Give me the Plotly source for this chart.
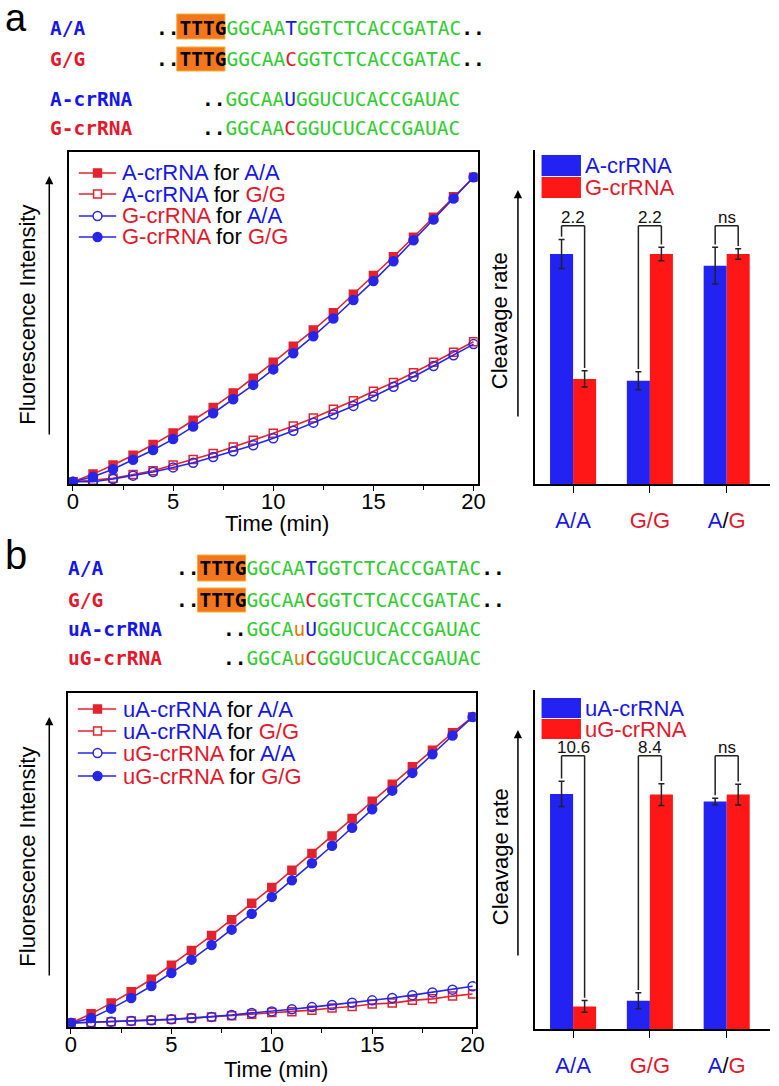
import plotly.graph_objects as go

W, H = 779, 1086

# ---------------- data ----------------
time_min = list(range(21))

# panel a: fluorescence kinetics (relative units)
a_Acr_AA = [0, 2.5, 5.5, 8.7, 12.2, 16.0, 20.2, 24.4, 29.1, 34.0, 39.2, 44.5, 49.8, 55.5, 61.6, 67.7, 73.9, 80.3, 86.9, 93.6, 100]
a_Acr_GG = [0, 0.5, 1.1, 2.4, 3.6, 5.5, 7.3, 9.3, 11.4, 13.6, 15.9, 18.3, 20.9, 23.8, 26.6, 29.7, 32.6, 35.8, 39.2, 42.5, 46.0]
a_Gcr_AA = [0, 0, 0.9, 2.0, 3.2, 4.7, 6.2, 8.1, 10.0, 12.0, 14.3, 16.7, 19.4, 22.1, 24.9, 28.0, 31.2, 34.5, 38.0, 41.5, 45.2]
a_Gcr_GG = [0, 1.6, 4.1, 7.2, 10.4, 14.0, 18.1, 22.5, 27.1, 31.8, 36.9, 42.2, 47.8, 53.6, 59.7, 65.9, 72.4, 79.3, 86.1, 93.0, 100]

# panel b: fluorescence kinetics (relative units)
b_uAcr_AA = [0, 3.0, 6.5, 10.2, 14.3, 18.9, 23.7, 28.6, 33.7, 39.1, 44.3, 49.9, 55.4, 61.1, 66.8, 72.4, 78.0, 83.7, 89.1, 94.8, 100]
b_uAcr_GG = [0, 0.2, 0.4, 0.7, 0.9, 1.2, 1.6, 2.0, 2.4, 2.9, 3.4, 3.7, 4.2, 4.9, 5.4, 6.2, 6.5, 7.4, 7.9, 8.8, 9.5]
b_uGcr_AA = [0, 0.2, 0.4, 0.7, 0.9, 1.2, 1.6, 2.0, 2.6, 3.3, 3.8, 4.5, 5.2, 5.9, 6.6, 7.4, 8.2, 9.1, 10.0, 10.9, 12.0]
b_uGcr_GG = [0, 1.6, 4.7, 8.2, 12.1, 16.3, 20.7, 25.5, 30.5, 35.7, 41.2, 46.6, 52.2, 57.9, 63.8, 69.8, 75.9, 81.7, 87.8, 93.9, 100]

# cleavage rates (relative)
categories = ["A/A", "G/G", "A/G"]
a_rate_Acr = [1.0, 0.449, 0.949]
a_err_Acr = [0.063, 0.039, 0.08]
a_rate_Gcr = [0.457, 1.0, 1.0]
a_err_Gcr = [0.035, 0.029, 0.023]
a_fold = ["2.2", "2.2", "ns"]

b_rate_uAcr = [1.0, 0.12, 0.968]
b_err_uAcr = [0.054, 0.034, 0.014]
b_rate_uGcr = [0.096, 0.997, 0.997]
b_err_uGcr = [0.025, 0.046, 0.044]
b_fold = ["10.6", "8.4", "ns"]

# ---------------- styles ----------------
BLUE_T = "#1616E6"
RED_T = "#E3182C"
RED_L = "#E2222E"
BLUE_L = "#2626E8"
BAR_B = "#2222F2"
BAR_R = "#FF1616"
GREEN = "#2ECC2E"
ORANGE_U = "#E07A00"
SANS = "Liberation Sans, Arial, sans-serif"
MONO = "DejaVu Sans Mono, Liberation Mono, monospace"


def px_x(v):
    return v / W


def px_y(v):
    return 1 - v / H


fig = go.Figure()

# ---------------- line charts ----------------
def add_lines(xa, ya, series):
    for ys, color, symbol in series:
        fig.add_trace(go.Scatter(
            x=time_min, y=ys, mode="lines+markers", xaxis=xa, yaxis=ya,
            line=dict(color=color, width=1.6),
            marker=dict(symbol=symbol, size=8 if "square" in symbol else 9, color=color,
                        line=dict(color=color, width=1.5)),
            showlegend=False))


add_lines("x", "y", [
    (a_Acr_GG, RED_L, "square-open"),
    (a_Gcr_AA, BLUE_L, "circle-open"),
    (a_Acr_AA, RED_L, "square"),
    (a_Gcr_GG, BLUE_L, "circle"),
])
add_lines("x3", "y3", [
    (b_uAcr_GG, RED_L, "square-open"),
    (b_uGcr_AA, BLUE_L, "circle-open"),
    (b_uAcr_AA, RED_L, "square"),
    (b_uGcr_GG, BLUE_L, "circle"),
])

# ---------------- bar charts ----------------
def add_bars(xa, ya, vals1, err1, vals2, err2):
    for vals, errs, color in ((vals1, err1, BAR_B), (vals2, err2, BAR_R)):
        fig.add_trace(go.Bar(
            x=categories, y=vals, xaxis=xa, yaxis=ya,
            marker=dict(color=color, line=dict(width=0)),
            error_y=dict(type="data", array=errs, color="#222", thickness=1.5, width=3),
            showlegend=False))


add_bars("x2", "y2", a_rate_Acr, a_err_Acr, a_rate_Gcr, a_err_Gcr)
add_bars("x4", "y4", b_rate_uAcr, b_err_uAcr, b_rate_uGcr, b_err_uGcr)

shapes = []
annotations = []


def brackets(xref, yref, v1, e1, v2, e2, labels, top):
    for i in range(3):
        xl, xr = i - 0.15, i + 0.15
        yl = v1[i] + e1[i] + 0.012
        yr = v2[i] + e2[i] + 0.012
        for (x0, y0, x1, y1) in ((xl, yl, xl, top), (xl, top, xr, top), (xr, top, xr, yr)):
            shapes.append(dict(type="line", xref=xref, yref=yref, x0=x0, y0=y0, x1=x1, y1=y1,
                               line=dict(color="#222", width=1.5)))
        annotations.append(dict(xref=xref, yref=yref, x=i, y=top, yanchor="bottom", yshift=-3,
                                text=labels[i], showarrow=False,
                                font=dict(family=SANS, size=17, color="#111")))


brackets("x2", "y2", a_rate_Acr, a_err_Acr, a_rate_Gcr, a_err_Gcr, a_fold, 1.123)
brackets("x4", "y4", b_rate_uAcr, b_err_uAcr, b_rate_uGcr, b_err_uGcr, b_fold, 1.162)

# ---------------- axes ----------------
tickfont = dict(family=SANS, size=22, color="black")
line_x = dict(showline=True, linecolor="black", linewidth=1.5, mirror=True, ticks="outside",
              ticklen=5, tickwidth=1.3, tickcolor="black", dtick=5, tick0=0,
              minor=dict(ticks="outside", dtick=2.5, ticklen=4, tickwidth=1.2, tickcolor="black"),
              showgrid=False, zeroline=False, tickfont=tickfont, ticklabelstandoff=-8)
line_y = dict(showline=True, linecolor="black", linewidth=1.5, mirror=True, ticks="",
              showticklabels=False, showgrid=False, zeroline=False)

cat_text = ["<span style='color:%s'>A/A</span>" % BLUE_T,
            "<span style='color:%s'>G/G</span>" % RED_T,
            "<span style='color:%s'>A</span>/<span style='color:%s'>G</span>" % (BLUE_T, RED_T)]
bar_x = dict(showline=True, linecolor="black", linewidth=1.5, ticks="outside", ticklen=7,
             tickwidth=1.3, tickcolor="black", tickmode="array", tickvals=categories,
             ticktext=cat_text, range=[-0.5, 2.564], showgrid=False, zeroline=False,
             tickfont=tickfont, ticklabelstandoff=9)
bar_y = dict(showline=True, linecolor="black", linewidth=1.5, ticks="", showticklabels=False,
             showgrid=False, zeroline=False)

fig.update_layout(
    xaxis=dict(line_x, domain=[px_x(67), px_x(482)], range=[-0.2, 20.2], anchor="y"),
    yaxis=dict(line_y, domain=[px_y(484), px_y(152)], range=[-0.75, 108.3], anchor="x"),
    xaxis3=dict(line_x, domain=[px_x(66), px_x(480)], range=[-0.15, 20.15], anchor="y3"),
    yaxis3=dict(line_y, domain=[px_y(1027), px_y(693)], range=[-1.3, 107.8], anchor="x3"),
    xaxis2=dict(bar_x, domain=[px_x(540), 1.0], anchor="y2"),
    yaxis2=dict(bar_y, domain=[px_y(484), px_y(150)], range=[0, 1.452], anchor="x2"),
    xaxis4=dict(bar_x, domain=[px_x(540), 1.0], anchor="y4"),
    yaxis4=dict(bar_y, domain=[px_y(1029), px_y(690)], range=[0, 1.442], anchor="x4"),
    barmode="group", bargap=0.4, bargroupgap=0,
)

# ---------------- text helpers ----------------
def text(px, py, s, size=22, family=SANS, color="black", xanchor="left", angle=0):
    annotations.append(dict(xref="paper", yref="paper", x=px_x(px), y=px_y(py), text=s,
                            showarrow=False, xanchor=xanchor, yanchor="middle",
                            textangle=angle, font=dict(family=family, size=size, color=color)))


def arrow(px, py_tail, py_head):
    annotations.append(dict(xref="paper", yref="paper", x=px_x(px), y=px_y(py_head),
                            ax=0, ay=py_tail - py_head, text="", showarrow=True,
                            arrowhead=2, arrowsize=1.1, arrowwidth=1.5, arrowcolor="black"))


def span(s, c):
    return "<span style='color:%s'>%s</span>" % (c, s)


MS = 19.5            # monospace font size
CW = MS * 0.602      # monospace character width

# ---------------- sequences ----------------
def seq_block(label_x, dots_x, rows, box_rows):
    for (py, label, lab_color, seq_html, dots_offset) in rows:
        text(label_x, py, "<b>%s</b>" % label, size=MS, family=MONO, color=lab_color)
        text(dots_x + dots_offset * CW, py, seq_html, size=MS, family=MONO)
    for (y0, y1) in box_rows:
        shapes.append(dict(type="rect", xref="paper", yref="paper",
                           x0=px_x(dots_x + 2 * CW), x1=px_x(dots_x + 6 * CW + 2),
                           y0=px_y(y1), y1=px_y(y0), fillcolor="#F4761C",
                           line=dict(color="#F5B030", width=1), layer="below"))


a_row1 = "<b>..TTTG</b>" + span("GGCAA", GREEN) + span("T", BLUE_T) + span("GGTCTCACCGATAC", GREEN) + "<b>..</b>"
a_row2 = "<b>..TTTG</b>" + span("GGCAA", GREEN) + span("C", RED_T) + span("GGTCTCACCGATAC", GREEN) + "<b>..</b>"
a_row3 = "<b>..</b>" + span("GGCAA", GREEN) + span("U", BLUE_T) + span("GGUCUCACCGAUAC", GREEN)
a_row4 = "<b>..</b>" + span("GGCAA", GREEN) + span("C", RED_T) + span("GGUCUCACCGAUAC", GREEN)

text(0, 18, "a", size=38)
seq_block(46, 153, [
    (29, "A/A", BLUE_T, a_row1, 0),
    (60, "G/G", RED_T, a_row2, 0),
    (100, "A-crRNA", BLUE_T, a_row3, 4),
    (128, "G-crRNA", RED_T, a_row4, 4),
], [(14, 39), (47, 71)])

b_row1 = a_row1
b_row2 = a_row2
b_row3 = "<b>..</b>" + span("GGCA", GREEN) + span("u", ORANGE_U) + span("U", BLUE_T) + span("GGUCUCACCGAUAC", GREEN)
b_row4 = "<b>..</b>" + span("GGCA", GREEN) + span("u", ORANGE_U) + span("C", RED_T) + span("GGUCUCACCGAUAC", GREEN)

text(0, 555, "b", size=40)
seq_block(64, 174, [
    (568, "A/A", BLUE_T, b_row1, 0),
    (600, "G/G", RED_T, b_row2, 0),
    (629, "uA-crRNA", BLUE_T, b_row3, 4),
    (658, "uG-crRNA", RED_T, b_row4, 4),
], [(555, 581), (588, 612)])

# ---------------- legends (line charts) ----------------
def line_legend(rows, x0, x1, xm, xt):
    for (py, color, kind, filled, html) in rows:
        shapes.append(dict(type="line", xref="paper", yref="paper", x0=px_x(x0), x1=px_x(x1),
                           y0=px_y(py), y1=px_y(py), line=dict(color=color, width=1.6)))
        r = 4 if kind == "rect" else 4.5
        shapes.append(dict(type=kind, xref="paper", yref="paper", x0=px_x(xm - r), x1=px_x(xm + r),
                           y0=px_y(py + r), y1=px_y(py - r), fillcolor=color if filled else "white",
                           line=dict(color=color, width=1.5)))
        text(xt, py, html, size=22)


line_legend([
    (173, RED_L, "rect", True, span("A-crRNA", BLUE_T) + " for " + span("A/A", BLUE_T)),
    (194, RED_L, "rect", False, span("A-crRNA", BLUE_T) + " for " + span("G/G", RED_T)),
    (216, BLUE_L, "circle", False, span("G-crRNA", RED_T) + " for " + span("A/A", BLUE_T)),
    (237, BLUE_L, "circle", True, span("G-crRNA", RED_T) + " for " + span("G/G", RED_T)),
], 77, 115, 96, 119)

line_legend([
    (709, RED_L, "rect", True, span("uA-crRNA", BLUE_T) + " for " + span("A/A", BLUE_T)),
    (731, RED_L, "rect", False, span("uA-crRNA", BLUE_T) + " for " + span("G/G", RED_T)),
    (753, BLUE_L, "circle", False, span("uG-crRNA", RED_T) + " for " + span("A/A", BLUE_T)),
    (776, BLUE_L, "circle", True, span("uG-crRNA", RED_T) + " for " + span("G/G", RED_T)),
], 76, 115, 96, 120)

# ---------------- legends (bar charts) ----------------
def bar_legend(rows):
    for (y0, y1, color, label) in rows:
        shapes.append(dict(type="rect", xref="paper", yref="paper", x0=px_x(547), x1=px_x(587),
                           y0=px_y(y1), y1=px_y(y0), fillcolor=color, line=dict(width=0)))
        text(589, (y0 + y1) / 2, label, size=22, color=BLUE_T if color == BAR_B else RED_T)


bar_legend([(155, 176, BAR_B, "A-crRNA"), (177, 198, BAR_R, "G-crRNA")])
bar_legend([(698, 718, BAR_B, "uA-crRNA"), (719, 739, BAR_R, "uG-crRNA")])

# ---------------- axis titles & arrows ----------------
text(24, 315, "Fluorescence Intensity", size=22, xanchor="center", angle=-90)
text(24, 857, "Fluorescence Intensity", size=22, xanchor="center", angle=-90)
text(505, 321, "Cleavage rate", size=22, xanchor="center", angle=-90)
text(505, 857, "Cleavage rate", size=22, xanchor="center", angle=-90)
text(278, 523, "Time (min)", size=22, xanchor="center")
text(277, 1069, "Time (min)", size=22, xanchor="center")

arrow(47, 436, 176)
arrow(47, 977, 717)
arrow(523, 418, 190)
arrow(523, 957, 730)

fig.update_layout(
    width=W, height=H, margin=dict(l=0, r=0, t=0, b=0),
    paper_bgcolor="white", plot_bgcolor="white",
    shapes=shapes, annotations=annotations, showlegend=False,
)

fig.write_html("out.html", config={"displayModeBar": False},
               post_script="document.body.style.margin='0';document.body.style.overflow='hidden';")
